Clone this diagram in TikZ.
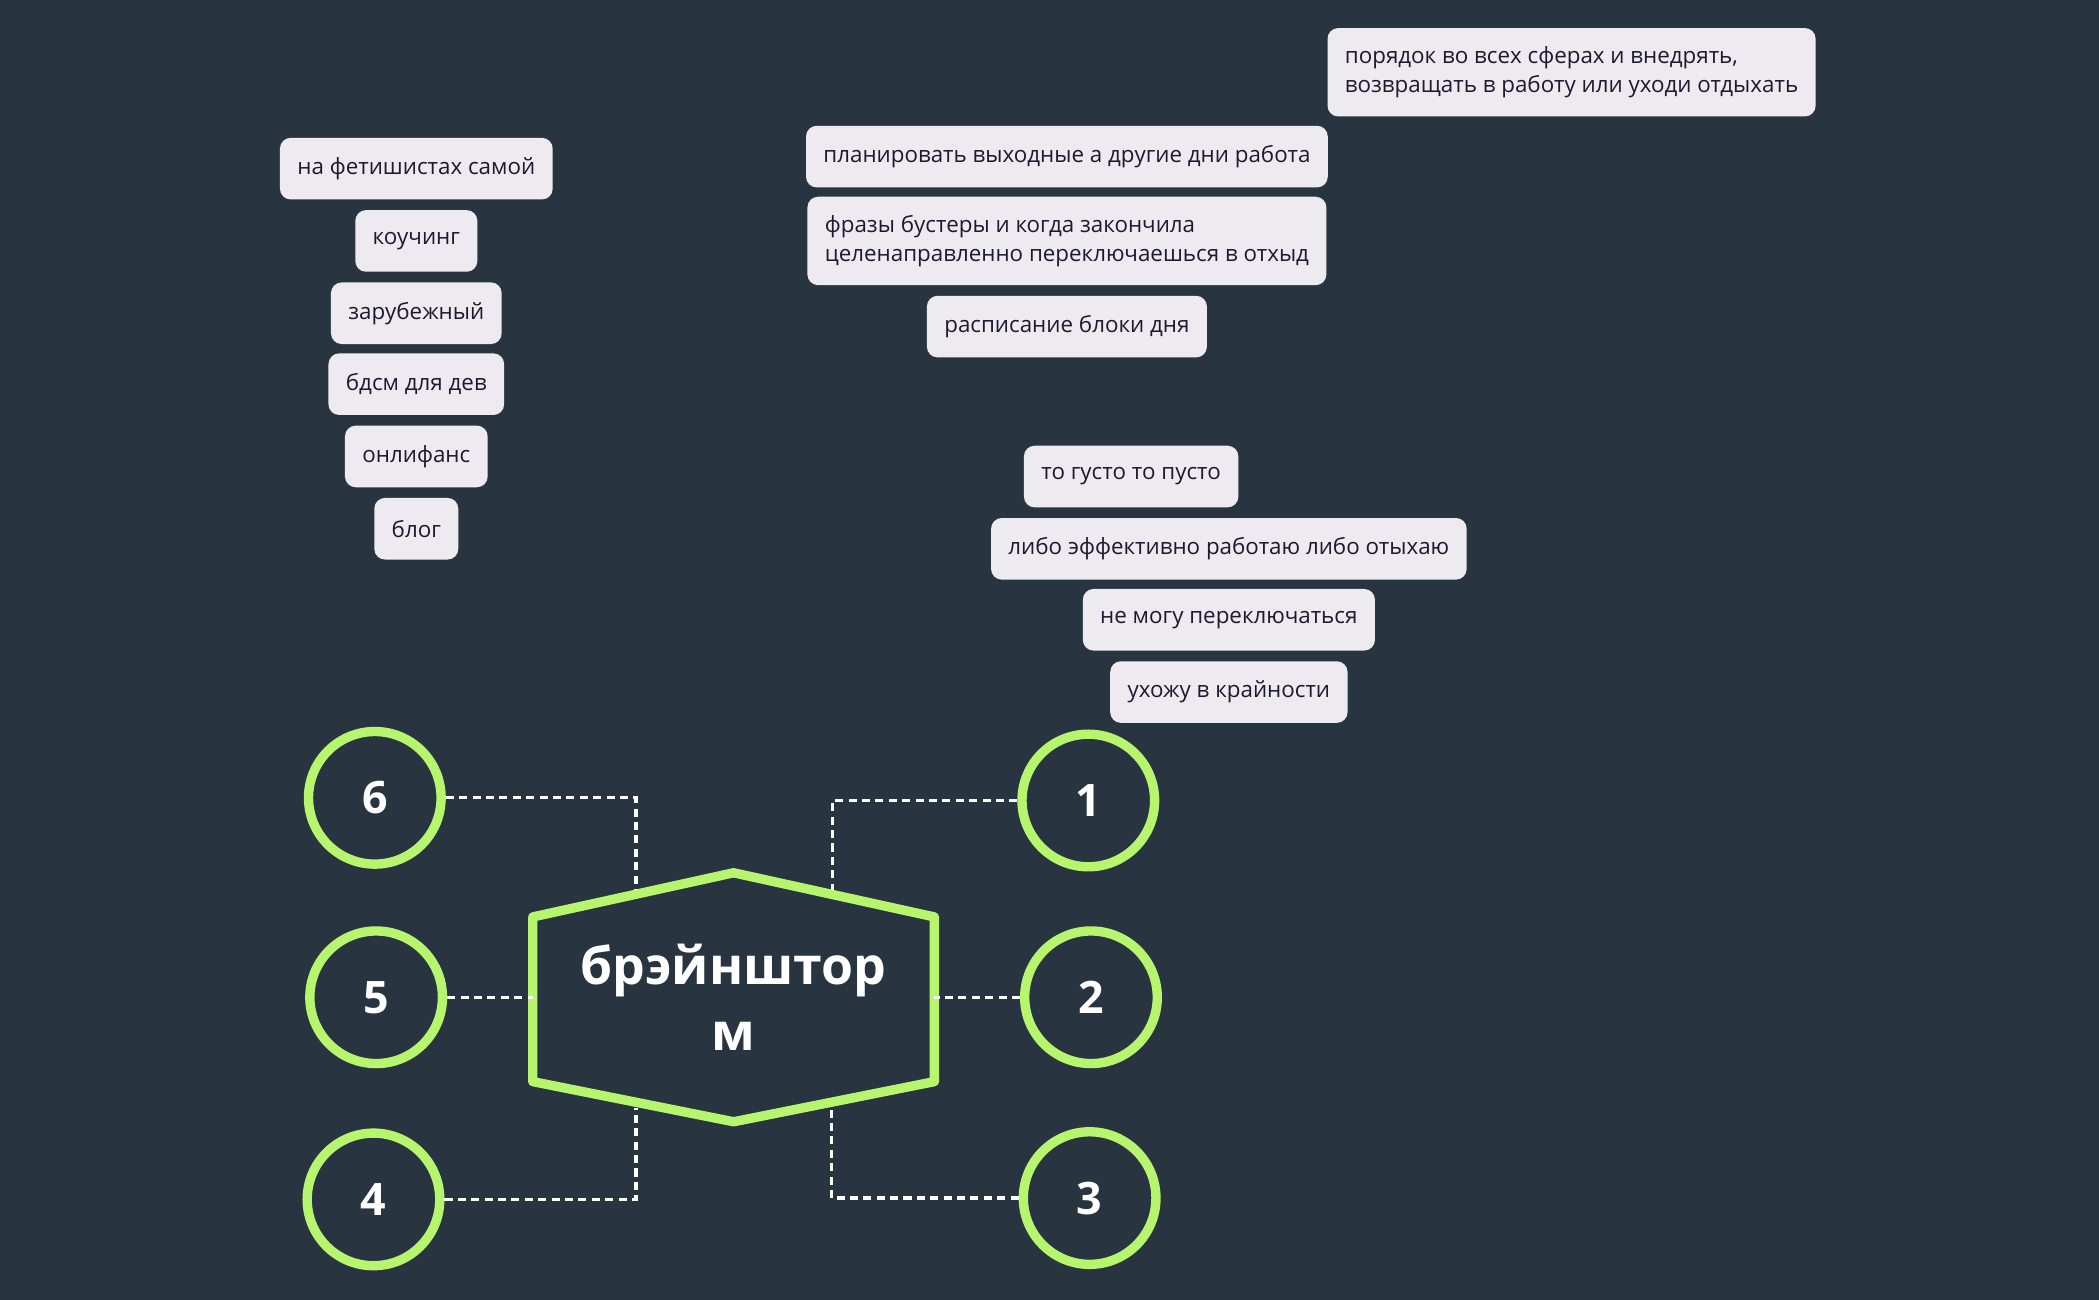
\documentclass[tikz,border=0pt]{standalone}
\usepackage{fontspec}
\setmainfont{Open Sans}
\usetikzlibrary{positioning}
\definecolor{bgdark}{HTML}{283540}
\definecolor{limegreen}{HTML}{B8F56E}
\definecolor{cardgray}{HTML}{EEEBF0}
\definecolor{cardtext}{HTML}{1C1A30}
\tikzset{
  card/.style={fill=cardgray,text=cardtext,rounded corners=0.08cm,minimum height=0.46cm,
    inner xsep=0.13cm,inner ysep=0.06cm,font=\fontsize{4.75}{6.2}\selectfont,align=left},
  numcircle/.style={circle,draw=limegreen,line width=0.07cm,minimum size=0.99cm,
    text=white,font=\fontsize{9.5}{11}\selectfont\bfseries},
  link/.style={draw=white,line width=0.025cm,dash pattern=on 0.06cm off 0.04cm}
}
\begin{document}
\begin{tikzpicture}[x=0.01cm,y=-0.01cm]
\fill[bgdark] (0,0) rectangle (1568,971);
\useasboundingbox (0,0) rectangle (1568,971);
% center hexagon
\coordinate (hl1) at (398,685); \coordinate (ht) at (548,652);
\coordinate (hr1) at (698,685); \coordinate (hr2) at (698,808);
\coordinate (hb) at (548,838);  \coordinate (hl2) at (398,808);
\draw[limegreen,line width=0.07cm,line join=round,fill=bgdark]
  (hl1) -- (ht) -- (hr1) -- (hr2) -- (hb) -- (hl2) -- cycle;
\node[text=white,align=center,font=\fontsize{11}{14}\selectfont\bfseries] (brain) at (548,745) {брэйнштор\\м};
% hexagon anchors for links
\coordinate (h6) at (475,665); \coordinate (h1) at (622,665);
\coordinate (h5) at (398,745); \coordinate (h2) at (698,745);
\coordinate (h4) at (475,828); \coordinate (h3) at (621,828);
% circles
\node[numcircle] (n6) at (280,596) {6};
\node[numcircle] (n5) at (281,745) {5};
\node[numcircle] (n4) at (279,896) {4};
\node[numcircle] (n1) at (813,598) {1};
\node[numcircle] (n2) at (815,745) {2};
\node[numcircle] (n3) at (814,895) {3};
% links
\draw[link] (n6.east) -| (h6);
\draw[link] (n1.west) -| (h1);
\draw[link] (n5.east) -- (h5);
\draw[link] (n2.west) -- (h2);
\draw[link] (n4.east) -| (h4);
\draw[link] (n3.west) -| (h3);
% left cards
\node[card] (fetish) at (311,126) {на фетишистах самой};
\node[card] (coach) at (311,180) {коучинг};
\node[card] (foreign) at (311,234) {зарубежный};
\node[card] (bdsm) at (311,287) {бдсм для дев};
\node[card] (onlyf) at (311,341) {онлифанс};
\node[card] (blog) at (311,395) {блог};
% top right cards
\node[card,minimum height=0.66cm] (order) at (1174,54) {порядок во всех сферах и внедрять,\\возвращать в работу или уходи отдыхать};
\node[card] (plan) at (797,117) {планировать выходные а другие дни работа};
\node[card,minimum height=0.66cm] (boost) at (797,180) {фразы бустеры и когда закончила\\целенаправленно переключаешься в отхыд};
\node[card] (sched) at (797,244) {расписание блоки дня};
% middle right cards
\node[card] (thick) at (845,356) {то густо то пусто};
\node[card] (effect) at (918,410) {либо эффективно работаю либо отыхаю};
\node[card] (switch) at (918,463) {не могу переключаться};
\node[card] (extreme) at (918,517) {ухожу в крайности};
\end{tikzpicture}
\end{document}
